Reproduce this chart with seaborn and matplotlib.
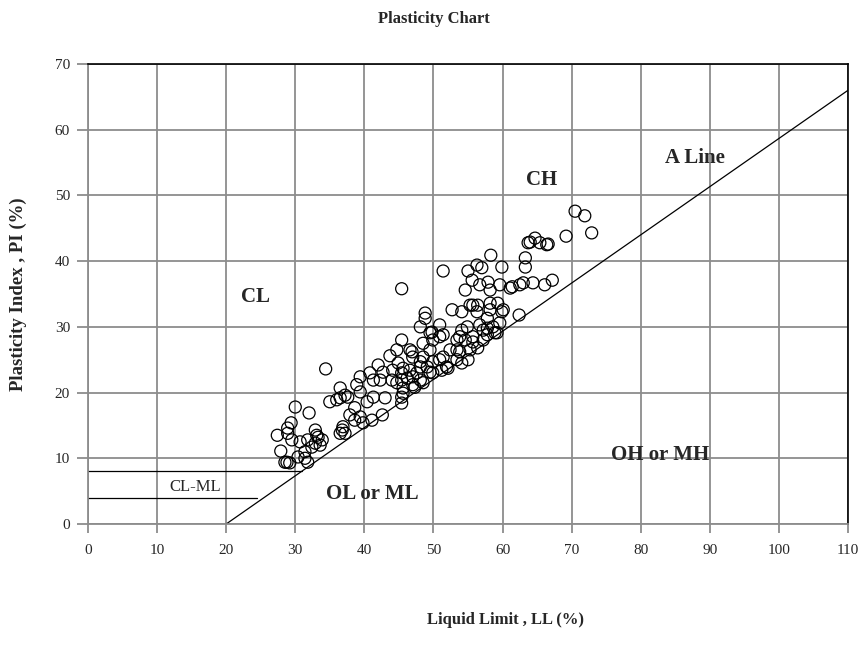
import matplotlib
matplotlib.use("Agg")
import matplotlib.pyplot as plt
import seaborn as sns
import pandas as pd

# ---- data ----
liquid_limit = [
    27.4, 27.9, 28.8, 29.4, 28.9, 28.9, 29.5, 30.0, 32.0, 30.7, 30.4, 28.5, 29.2, 31.4, 31.4,
    31.8, 31.8, 32.4, 32.9, 32.9, 33.1, 33.3, 33.6, 33.9, 34.4, 36.5, 36.8, 37.2, 36.9, 35.0,
    36.0, 36.5, 37.2, 37.6, 36.5, 37.9, 38.6, 39.4, 39.8, 38.6, 38.9, 39.4, 39.4, 40.4, 40.8,
    41.1, 41.3, 41.3, 42.0, 42.3, 42.6, 42.7, 43.0, 43.7, 44.0, 44.1, 44.7, 44.7, 44.9, 45.4,
    45.4, 45.4, 45.4, 45.4, 45.4, 45.6, 45.6, 45.6, 46.2, 46.6, 46.6, 46.9, 47.0, 47.0, 47.0,
    47.3, 47.6, 48.1, 48.1, 48.1, 48.1, 48.5, 48.5, 48.5, 48.8, 48.8, 49.1, 49.5, 49.5, 49.5,
    49.8, 49.9, 49.9, 49.9, 50.9, 50.9, 50.9, 51.2, 51.4, 51.4, 51.4, 51.9, 52.1, 52.4, 52.7,
    53.4, 53.4, 53.4, 53.8, 53.8, 54.1, 54.1, 54.1, 54.6, 54.6, 54.9, 55.0, 55.0, 55.3, 55.3,
    55.6, 55.7, 55.7, 55.7, 56.3, 56.3, 56.4, 56.4, 56.7, 56.7, 57.0, 57.2, 57.2, 57.8, 57.8,
    57.8, 57.9, 58.2, 58.2, 58.2, 58.3, 58.6, 58.9, 59.2, 59.3, 59.6, 59.6, 59.9, 59.9, 60.1,
    61.1, 61.4, 62.4, 62.5, 63.0, 63.3, 63.3, 63.7, 64.0, 64.4, 64.7, 65.4, 66.1, 66.4, 66.6,
    67.2, 69.2, 70.5, 71.9, 72.9,
]
plasticity_index = [
    13.5, 11.1, 9.4, 15.4, 14.6, 13.8, 12.8, 17.8, 16.9, 12.5, 10.2, 9.4, 9.3, 11.0, 10.0,
    9.4, 12.8, 11.7, 14.3, 12.3, 13.5, 13.2, 12.0, 12.8, 23.6, 13.8, 14.3, 13.8, 14.8, 18.6,
    18.9, 19.2, 19.6, 19.3, 20.7, 16.6, 15.8, 16.3, 15.4, 17.7, 21.2, 20.1, 22.4, 18.6, 23.0,
    15.8, 19.3, 21.9, 24.2, 21.9, 16.6, 23.1, 19.2, 25.6, 21.9, 23.4, 26.5, 21.5, 24.5, 28.0,
    35.8, 23.0, 21.9, 19.3, 18.4, 19.9, 23.7, 20.7, 22.2, 26.5, 23.4, 26.2, 25.4, 21.2, 22.4,
    20.8, 23.0, 30.0, 24.7, 21.9, 23.9, 27.5, 25.4, 21.5, 32.1, 31.3, 23.9, 29.1, 26.5, 23.1,
    29.2, 24.7, 23.0, 28.0, 30.3, 28.5, 25.0, 23.4, 38.5, 25.4, 28.8, 23.9, 23.7, 26.5, 32.6,
    28.0, 26.5, 25.0, 28.5, 26.2, 32.3, 29.5, 24.5, 35.6, 28.0, 30.0, 38.5, 25.0, 33.3, 26.5,
    37.1, 33.3, 28.5, 27.7, 39.4, 32.3, 33.3, 26.8, 36.4, 30.3, 39.0, 29.5, 28.0, 31.3, 28.8,
    29.8, 36.8, 35.6, 33.6, 32.6, 40.9, 30.0, 29.1, 29.1, 33.6, 36.4, 30.6, 39.1, 32.3, 32.6,
    35.9, 36.1, 31.8, 36.4, 36.7, 40.5, 39.1, 42.8, 42.9, 36.7, 43.5, 42.8, 36.4, 42.5, 42.6,
    37.1, 43.8, 47.6, 46.9, 44.3,
]

a_line_ll = [20, 110]
a_line_pi = [0, 66.0]
clml_upper_ll = [0, 31]
clml_upper_pi = [8, 8]
clml_lower_ll = [0, 24.5]
clml_lower_pi = [4, 4]

zone_labels = ["CL", "CH", "A Line", "OH or MH", "OL or ML"]
zone_ll = [24.2, 65.6, 87.9, 82.8, 41.1]
zone_pi = [34.5, 52.3, 55.7, 10.5, 4.6]

x_ticks = [0, 10, 20, 30, 40, 50, 60, 70, 80, 90, 100, 110]
y_ticks = [0, 10, 20, 30, 40, 50, 60, 70]

df = pd.DataFrame({"LL": liquid_limit, "PI": plasticity_index})

sns.set_theme(style="white")
plt.rcParams["font.family"] = ["Liberation Serif", "DejaVu Serif"]

fig = plt.figure(figsize=(8.68, 6.64), dpi=100)
ax = fig.add_axes([88 / 868, 1 - 524 / 664, 760 / 868, 460 / 664])

grid_c = "#8c8c8c"
ax.set_xlim(0, 110)
ax.set_ylim(0, 70)
ax.set_xticks(x_ticks)
ax.set_yticks(y_ticks)
ax.grid(True, color=grid_c, linewidth=1.3)
ax.set_axisbelow(True)

sns.scatterplot(data=df, x="LL", y="PI", ax=ax, marker="o", s=75,
                facecolors="none", edgecolor="black", linewidth=0.9, zorder=3)

sns.lineplot(x=a_line_ll, y=a_line_pi, ax=ax, color="black", linewidth=0.9, zorder=2)
sns.lineplot(x=clml_upper_ll, y=clml_upper_pi, ax=ax, color="black", linewidth=0.9, zorder=2)
sns.lineplot(x=clml_lower_ll, y=clml_lower_pi, ax=ax, color="black", linewidth=0.9, zorder=2)

for lab, xx, yy in zip(zone_labels, zone_ll, zone_pi):
    ax.text(xx, yy, lab, fontsize=15, fontweight="bold", ha="center", va="center", zorder=4)
ax.text(15.5, 5.6, "CL-ML", fontsize=12, ha="center", va="center", zorder=4)

for side in ["left", "bottom"]:
    ax.spines[side].set_color(grid_c)
    ax.spines[side].set_linewidth(1.3)
for side in ["top", "right"]:
    ax.spines[side].set_color("black")
    ax.spines[side].set_linewidth(1.2)
    ax.spines[side].set_visible(True)

ax.tick_params(axis="x", direction="out", length=6.5, width=1.3, color=grid_c,
               pad=8, labelsize=11, bottom=True)
ax.tick_params(axis="y", direction="out", length=8, width=1.3, color=grid_c,
               pad=5, labelsize=11, left=True)

ax.set_xlabel("Liquid Limit , LL (%)", fontsize=12, fontweight="bold")
ax.set_ylabel("Plasticity Index , PI (%)", fontsize=13.5, fontweight="bold")
ax.xaxis.set_label_coords(0.549, -0.191)
ax.yaxis.set_label_coords(-0.080, 0.5)

fig.text(0.5, 1 - 19 / 664, "Plasticity Chart", fontsize=12, fontweight="bold",
         ha="center", va="center")

fig.savefig("out.png", dpi=100, facecolor="white")
